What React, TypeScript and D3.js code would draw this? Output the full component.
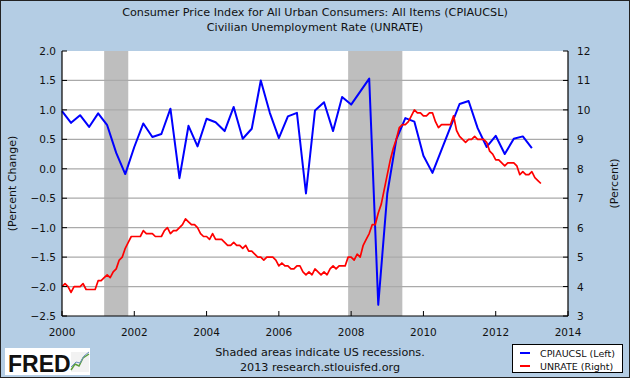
import React from "react";
import * as d3 from "d3";

const cpiStart = 2000;
// CPIAUCSL, quarterly percent change, 2000Q1 .. 2013Q1
const cpiValues = [
  0.98, 0.78, 0.91, 0.71,
  0.94, 0.74, 0.27, -0.09,
  0.37, 0.77, 0.54, 0.59,
  1.02, -0.16, 0.73, 0.38,
  0.85, 0.79, 0.64, 1.05,
  0.51, 0.68, 1.5, 0.95,
  0.52, 0.89, 0.95, -0.42,
  0.99, 1.13, 0.64, 1.22,
  1.09, 1.31, 1.53, -2.31,
  -0.42, 0.5, 0.86, 0.8,
  0.22, -0.07, 0.32, 0.71,
  1.1, 1.15, 0.69, 0.37,
  0.56, 0.25, 0.51, 0.55,
  0.35,
];

// UNRATE, monthly, Jan 2000 .. Apr 2013
const unrateValues = [
  4.0, 4.1, 4.0, 3.8, 4.0, 4.0, 4.0, 4.1, 3.9, 3.9, 3.9, 3.9,
  4.2, 4.2, 4.3, 4.4, 4.3, 4.5, 4.6, 4.9, 5.0, 5.3, 5.5, 5.7,
  5.7, 5.7, 5.7, 5.9, 5.8, 5.8, 5.8, 5.7, 5.7, 5.7, 5.9, 6.0,
  5.8, 5.9, 5.9, 6.0, 6.1, 6.3, 6.2, 6.1, 6.1, 6.0, 5.8, 5.7,
  5.7, 5.6, 5.8, 5.6, 5.6, 5.6, 5.5, 5.4, 5.4, 5.5, 5.4, 5.4,
  5.3, 5.4, 5.2, 5.2, 5.1, 5.0, 5.0, 4.9, 5.0, 5.0, 5.0, 4.9,
  4.7, 4.8, 4.7, 4.7, 4.6, 4.6, 4.7, 4.7, 4.5, 4.4, 4.5, 4.4,
  4.6, 4.5, 4.4, 4.5, 4.4, 4.6, 4.7, 4.6, 4.7, 4.7, 4.7, 5.0,
  5.0, 4.9, 5.1, 5.0, 5.4, 5.6, 5.8, 6.1, 6.1, 6.5, 6.8, 7.3,
  7.8, 8.3, 8.7, 9.0, 9.4, 9.5, 9.5, 9.6, 9.8, 10.0, 9.9, 9.9,
  9.8, 9.8, 9.9, 9.9, 9.6, 9.4, 9.5, 9.5, 9.5, 9.5, 9.8, 9.3,
  9.1, 9.0, 8.9, 9.0, 9.0, 9.1, 9.0, 9.0, 9.0, 8.9, 8.6, 8.5,
  8.3, 8.3, 8.2, 8.1, 8.2, 8.2, 8.2, 8.1, 7.8, 7.9, 7.8, 7.8,
  7.9, 7.7, 7.6, 7.5,
];

const recessions = [
  [2001 + 2 / 12, 2001 + 10 / 12],
  [2007 + 11 / 12, 2009 + 5 / 12],
];

const xTicks = [2000, 2002, 2004, 2006, 2008, 2010, 2012, 2014];
const leftTicks = [2.0, 1.5, 1.0, 0.5, 0.0, -0.5, -1.0, -1.5, -2.0, -2.5];
const rightTicks = [12, 11, 10, 9, 8, 7, 6, 5, 4, 3];

const titleLines = [
  "Consumer Price Index for All Urban Consumers: All Items (CPIAUCSL)",
  "Civilian Unemployment Rate (UNRATE)",
];
const legendLabels = ["CPIAUCSL (Left)", "UNRATE (Right)"];
const noteLines = ["Shaded areas indicate US recessions.", "2013 research.stlouisfed.org"];

const W = 630;
const H = 378;
const L = 62;
const R = 568;
const T = 51;
const B = 316;
const FONT = "'DejaVu Sans', sans-serif";

export default function App() {
  const x = d3.scaleLinear().domain([2000, 2014]).range([L, R]);
  const yL = d3.scaleLinear().domain([-2.5, 2]).range([B, T]);
  const yR = d3.scaleLinear().domain([3, 12]).range([B, T]);

  const cpi = cpiValues.map((v, i) => ({ t: cpiStart + i / 4, v }));
  const un = unrateValues.map((v, i) => ({ t: cpiStart + i / 12, v }));

  const lineL = d3
    .line<{ t: number; v: number }>()
    .x((d) => x(d.t))
    .y((d) => yL(d.v));
  const lineR = d3
    .line<{ t: number; v: number }>()
    .x((d) => x(d.t))
    .y((d) => yR(d.v));

  return (
    <svg
      width={W}
      height={H}
      style={{ position: "absolute", left: 0, top: 0 }}
      fontFamily={FONT}
    >
      <rect x={0} y={0} width={W} height={H} fill="#B4CDE4" />
      <rect x={0.5} y={0.5} width={W - 1} height={H - 1} fill="none" stroke="#222" />
      {titleLines.map((t, i) => (
        <text key={t} x={315} y={16 + i * 15} textAnchor="middle" fontSize={11.2} fill="#111">
          {t}
        </text>
      ))}
      <rect x={L} y={T} width={R - L} height={B - T} fill="#fff" />
      {recessions.map(([a, b], i) => (
        <rect key={i} x={x(a)} y={T} width={x(b) - x(a)} height={B - T} fill="#BEBEBE" />
      ))}
      {leftTicks.slice(1, -1).map((v) => (
        <line key={v} x1={L} x2={R} y1={yL(v)} y2={yL(v)} stroke="#AAAAAA" strokeWidth={1.2} />
      ))}
      <path d={lineL(cpi) || ""} fill="none" stroke="#0000FF" strokeWidth={2} strokeLinejoin="round" />
      <path d={lineR(un) || ""} fill="none" stroke="#FF0000" strokeWidth={1.7} strokeLinejoin="round" />
      {/* axes */}
      <line x1={L} x2={L} y1={T} y2={B} stroke="#000" strokeWidth={1.2} />
      <line x1={R} x2={R} y1={T} y2={B} stroke="#000" strokeWidth={1.2} />
      <line x1={L} x2={R} y1={B} y2={B} stroke="#000" strokeWidth={1.2} />
      {leftTicks.map((v) => (
        <g key={v}>
          <line x1={L} x2={L + 5} y1={yL(v)} y2={yL(v)} stroke="#000" />
          <text x={L - 6} y={yL(v) + 4} textAnchor="end" fontSize={10.5} fill="#111">
            {d3.format(".1f")(v)}
          </text>
        </g>
      ))}
      {rightTicks.map((v) => (
        <g key={v}>
          <line x1={R - 5} x2={R} y1={yR(v)} y2={yR(v)} stroke="#000" />
          <text x={R + 9} y={yR(v) + 4} textAnchor="start" fontSize={10.5} fill="#111">
            {v}
          </text>
        </g>
      ))}
      {xTicks.map((v) => (
        <g key={v}>
          <line x1={x(v)} x2={x(v)} y1={B - 5} y2={B} stroke="#000" />
          <text x={x(v)} y={B + 20} textAnchor="middle" fontSize={10.5} fill="#111">
            {v}
          </text>
        </g>
      ))}
      <text
        transform={`translate(16,${(T + B) / 2}) rotate(-90)`}
        textAnchor="middle"
        fontSize={11}
        fill="#111"
      >
        (Percent Change)
      </text>
      <text
        transform={`translate(618,${(T + B) / 2}) rotate(-90)`}
        textAnchor="middle"
        fontSize={11}
        fill="#111"
      >
        (Percent)
      </text>
      {noteLines.map((t, i) => (
        <text key={t} x={320} y={356 + i * 15} textAnchor="middle" fontSize={11.2} fill="#111">
          {t}
        </text>
      ))}
      {/* legend */}
      <rect x={512.5} y={344.5} width={110} height={28} fill="#fff" stroke="#000" />
      {legendLabels.map((t, i) => (
        <g key={t}>
          <line
            x1={520}
            x2={530}
            y1={353 + i * 13}
            y2={353 + i * 13}
            stroke={i === 0 ? "#0000FF" : "#FF0000"}
            strokeWidth={2}
          />
          <text x={540} y={356.5 + i * 13} fontSize={9.5} fill="#111">
            {t}
          </text>
        </g>
      ))}
      {/* FRED logo */}
      <rect x={5} y={348} width={85} height={27} fill="#fff" />
      <text x={8} y={372} fontSize={23} fontWeight="bold" fontFamily="'Liberation Sans', Arial, sans-serif" fill="#111">
        FRED
      </text>
      <rect x={71} y={352} width={18} height={20} fill="#F2F2F2" />
      <path d="M71,370 L75,364 L79,366 L83,358 L89,354" fill="none" stroke="#5A9E3A" strokeWidth={1.5} />
      <path d="M71,367 L76,362 L80,363 L84,356 L89,352" fill="none" stroke="#6C8FC0" strokeWidth={1} />
    </svg>
  );
}
